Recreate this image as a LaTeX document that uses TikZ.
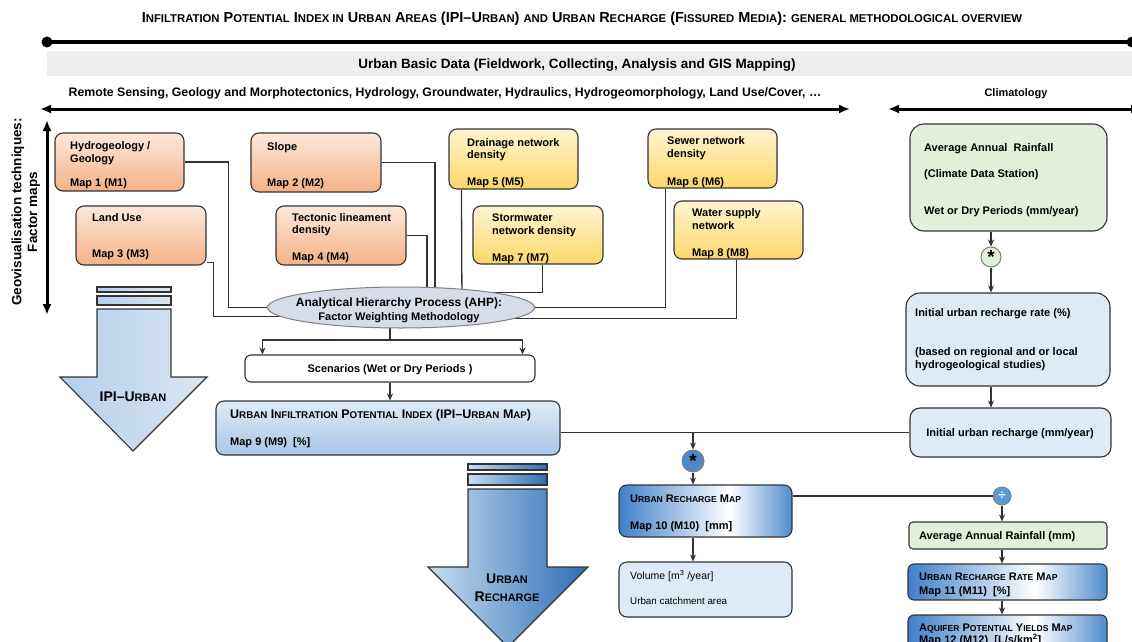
\documentclass[tikz,border=0pt]{standalone}
\usepackage{fontspec}
\setmainfont{Liberation Sans}
\usetikzlibrary{arrows.meta,calc,backgrounds,shapes.geometric}
\definecolor{edge}{HTML}{333333}
\definecolor{or1}{HTML}{FDE8DA}
\definecolor{or2}{HTML}{F4B286}
\definecolor{ye1}{HTML}{FFF5D2}
\definecolor{ye2}{HTML}{FCD668}
\definecolor{grn}{HTML}{E2EFDA}
\definecolor{lblue}{HTML}{DEEAF6}
\definecolor{ipi1}{HTML}{E0EBF6}
\definecolor{ipi2}{HTML}{A6C6E8}
\definecolor{bw1}{HTML}{3F80C9}
\definecolor{bw2}{HTML}{4F8BCD}
\definecolor{ellc}{HTML}{D6DDE8}
\definecolor{band}{HTML}{EDEDED}
\definecolor{ca1}{HTML}{B2CFED}
\definecolor{ca2}{HTML}{DCE5EE}
\definecolor{cb1}{HTML}{C8DDF1}
\definecolor{cb2}{HTML}{2D6DB5}
\definecolor{opblue}{HTML}{4F87C7}
\definecolor{opblue2}{HTML}{5B9BD5}
\pgfdeclarehorizontalshading{bluewhite}{100bp}{color(0bp)=(bw1); color(25bp)=(bw1); color(57bp)=(white); color(75bp)=(bw2); color(100bp)=(bw2)}
\makeatletter
\newcommand\lo[1]{{\fontsize{\fpeval{0.78*\f@size}}{\f@baselineskip}\selectfont #1}}
\makeatother
\tikzset{
 bx/.style={draw=edge, line width=1.1pt, rounded corners=8pt, inner sep=0pt},
 obox/.style={bx, top color=or1, bottom color=or2},
 ybox/.style={bx, top color=ye1, bottom color=ye2},
 gbox/.style={bx, fill=grn},
 lbbox/.style={bx, fill=lblue},
 wbox/.style={bx, fill=white, rounded corners=6pt},
 ipibox/.style={bx, top color=ipi1, bottom color=ipi2},
 bwbox/.style={bx, shade, shading=bluewhite},
 txt/.style={anchor=base west, inner sep=0pt},
 ctxt/.style={anchor=base, inner sep=0pt},
 conn/.style={draw=edge, line width=1.3pt},
 arr/.style={conn, -{Stealth[length=7pt,width=6pt]}},
 bigarr/.style={line width=3pt, {Latex[length=11pt,width=9pt]}-{Latex[length=11pt,width=9pt]}},
 opcirc/.style={circle, draw=gray, line width=1pt, minimum size=#1, inner sep=0pt},
 bigshape/.style={draw=edge, line width=1.1pt},
}
\begin{document}
\begin{tikzpicture}[x=1pt,y=-1pt,font=\fontsize{11}{13}\selectfont\bfseries]
\useasboundingbox (0,0) rectangle (1132,642);
% title and header
\node[ctxt, font=\fontsize{14.5}{16}\selectfont\bfseries] (title) at (582,23) {I\lo{NFILTRATION} P\lo{OTENTIAL} I\lo{NDEX IN} U\lo{RBAN} A\lo{REAS} (IPI–U\lo{RBAN}) \lo{AND} U\lo{RBAN} R\lo{ECHARGE} (F\lo{ISSURED} M\lo{EDIA}): \lo{GENERAL METHODOLOGICAL OVERVIEW}};
\coordinate (tl) at (47,42);
\coordinate (tr) at (1132,42);
\draw[line width=4pt] (tl) -- (tr);
\fill (tl) circle (5.5);
\fill (tr) circle (5.5);
\fill[band] (47,51) rectangle (1132,76);
\node[ctxt, font=\fontsize{13.5}{15}\selectfont\bfseries] (basic) at (577,68.5) {Urban Basic Data (Fieldwork, Collecting, Analysis and GIS Mapping)};
\node[ctxt, font=\fontsize{12.3}{14}\selectfont\bfseries] (remote) at (445,96) {Remote Sensing, Geology and Morphotectonics, Hydrology, Groundwater, Hydraulics, Hydrogeomorphology, Land Use/Cover, \dots};
\node[ctxt] (clim) at (1016,96) {Climatology};
\coordinate (ra) at (40,109);
\coordinate (rb) at (850,109);
\draw[bigarr] (ra) -- (rb);
\coordinate (ca) at (888,109);
\coordinate (cb) at (1142,109);
\draw[bigarr] (ca) -- (cb);
\coordinate (va) at (47,120);
\coordinate (vb) at (47,315);
\draw[bigarr] (va) -- (vb);
\node[rotate=90, inner sep=0pt, font=\fontsize{13.5}{16}\selectfont\bfseries] (geo1) at (18,212) {Geovisualisation techniques:};
\node[rotate=90, inner sep=0pt, font=\fontsize{13.5}{16}\selectfont\bfseries] (geo2) at (34,212) {Factor maps};

% factor boxes
\node[obox, minimum width=129, minimum height=58] (m1) at (119.5,162) {};
\node[obox, minimum width=130, minimum height=59] (m2) at (316,162.5) {};
\node[obox, minimum width=130, minimum height=59] (m3) at (141,235.5) {};
\node[obox, minimum width=130, minimum height=59] (m4) at (341,235.5) {};
\node[ybox, minimum width=129, minimum height=60] (m5) at (513.5,159) {};
\node[ybox, minimum width=129, minimum height=59] (m6) at (712.5,158.5) {};
\node[ybox, minimum width=130, minimum height=58] (m7) at (538,235) {};
\node[ybox, minimum width=129, minimum height=58] (m8) at (738.5,230) {};
\node[txt] (m1a) at (70,149.5) {Hydrogeology /};
\node[txt] (m1b) at (70,162.5) {Geology};
\node[txt] (m1c) at (70,186.5) {Map 1 (M1)};
\node[txt] (m2a) at (267,150) {Slope};
\node[txt] (m2c) at (267,186) {Map 2 (M2)};
\node[txt] (m3a) at (92,221) {Land Use};
\node[txt] (m3c) at (92,257) {Map 3 (M3)};
\node[txt] (m4a) at (292,221) {Tectonic lineament};
\node[txt] (m4b) at (292,233.5) {density};
\node[txt] (m4c) at (292,260) {Map 4 (M4)};
\node[txt] (m5a) at (467,146) {Drainage network};
\node[txt] (m5b) at (467,158) {density};
\node[txt] (m5c) at (467,185) {Map 5 (M5)};
\node[txt] (m6a) at (667,144) {Sewer network};
\node[txt] (m6b) at (667,157) {density};
\node[txt] (m6c) at (667,185) {Map 6 (M6)};
\node[txt] (m7a) at (492,221) {Stormwater};
\node[txt] (m7b) at (492,234) {network density};
\node[txt] (m7c) at (492,261) {Map 7 (M7)};
\node[txt] (m8a) at (692,216) {Water supply};
\node[txt] (m8b) at (692,229.5) {network};
\node[txt] (m8c) at (692,256) {Map 8 (M8)};

% AHP
\node[ellipse, draw=gray, fill=ellc, line width=1pt, minimum width=267, minimum height=41, inner sep=0pt] (ahp) at (401,307.5) {};
\node[ctxt, font=\fontsize{12}{14}\selectfont\bfseries] (ahp1) at (399,306) {Analytical Hierarchy Process (AHP):};
\node[ctxt] (ahp2) at (399,320.5) {Factor Weighting Methodology};

% big arrows
\fill[left color=ca1, right color=ca2, draw=edge, line width=1.1pt] (97,287) rectangle (171,292);
\fill[left color=ca1, right color=ca2, draw=edge, line width=1.1pt] (97,296) rectangle (171,305);
\path[bigshape, left color=ca1, right color=ca2] (97,309) -- (171,309) -- (171,377) -- (207,377) -- (133,451) -- (60,377) -- (97,377) -- cycle;
\node[ctxt, font=\fontsize{14}{16}\selectfont\bfseries] (ipilbl) at (133,401) {IPI–U\lo{RBAN}};

\fill[left color=cb1, right color=cb2, draw=edge, line width=1.1pt] (468,464) rectangle (547,470);
\fill[left color=cb1, right color=cb2, draw=edge, line width=1.1pt] (468,474) rectangle (547,485);
\path[bigshape, left color=cb1, right color=cb2] (468,489) -- (547,489) -- (547,567) -- (588,567) -- (508,647) -- (428,567) -- (468,567) -- cycle;
\node[ctxt, font=\fontsize{14}{16}\selectfont\bfseries] (rcl1) at (507,583) {U\lo{RBAN}};
\node[ctxt, font=\fontsize{14}{16}\selectfont\bfseries] (rcl2) at (507,601) {R\lo{ECHARGE}};

% middle flow
\node[wbox, minimum width=290, minimum height=27] (scen) at (390,368.5) {};
\node[ctxt] (scent) at (390,372.5) {Scenarios (Wet or Dry Periods )};
\node[ipibox, minimum width=344, minimum height=54] (ipi) at (388,428) {};
\node[txt, font=\fontsize{12.5}{14}\selectfont\bfseries] (ipia) at (230,418) {U\lo{RBAN} I\lo{NFILTRATION} P\lo{OTENTIAL} I\lo{NDEX} (IPI–U\lo{RBAN} M\lo{AP})};
\node[txt] (ipib) at (230,445) {Map 9 (M9)\ \ [\%]};
\node[bwbox, minimum width=173, minimum height=52] (m10) at (705.5,511) {};
\node[txt] (m10a) at (630,502) {U\lo{RBAN} R\lo{ECHARGE} M\lo{AP}};
\node[txt] (m10b) at (630,529) {Map 10 (M10)\ \ [mm]};
\node[lbbox, minimum width=173, minimum height=55] (vol) at (705.5,589.5) {};
\node[txt, font=\fontsize{10.5}{12}\selectfont] (vola) at (630,579) {Volume [m\textsuperscript{3} /year]};
\node[txt, font=\fontsize{9.8}{11}\selectfont] (volb) at (630,604) {Urban catchment area};

% right column
\node[gbox, rounded corners=14pt, minimum width=197, minimum height=107] (g1) at (1008.5,177.5) {};
\node[txt] (g1a) at (924,151) {Average Annual\ \ Rainfall};
\node[txt] (g1b) at (924,177) {(Climate Data Station)};
\node[txt] (g1c) at (924,214) {Wet or Dry Periods (mm/year)};
\node[opcirc=20, fill=grn] (c1) at (991,257) {\raisebox{-4.5pt}{\fontsize{19}{19}\selectfont *}};
\node[lbbox, rounded corners=14pt, minimum width=204, minimum height=93] (rate) at (1008,339.5) {};
\node[txt] (ratea) at (915,316) {Initial urban recharge rate (\%)};
\node[txt] (rateb) at (915,355) {(based on regional and or local};
\node[txt] (ratec) at (915,368) {hydrogeological studies)};
\node[lbbox, rounded corners=10pt, minimum width=201, minimum height=49] (init) at (1010.5,432.5) {};
\node[ctxt] (initt) at (1010,436) {Initial urban recharge (mm/year)};
\node[opcirc=22, fill=opblue] (c2) at (693,461) {\raisebox{-4.5pt}{\fontsize{19}{19}\selectfont *}};
\node[opcirc=18, fill=opblue2] (c3) at (1002,496) {\fontsize{13}{13}\selectfont\color{white}÷};
\node[gbox, rounded corners=4pt, minimum width=198, minimum height=27] (rain) at (1008,535.5) {};
\node[txt] (raint) at (919,539) {Average Annual Rainfall (mm)};
\node[bwbox, rounded corners=6pt, minimum width=199, minimum height=36] (rr) at (1007.5,582) {};
\node[txt] (rra) at (919,580) {U\lo{RBAN} R\lo{ECHARGE} R\lo{ATE} M\lo{AP}};
\node[txt] (rrb) at (919,594) {Map 11 (M11)\ \ [\%]};
\node[bwbox, rounded corners=6pt, minimum width=199, minimum height=50] (aq) at (1007.5,640) {};
\node[txt] (aqa) at (919,631) {A\lo{QUIFER} P\lo{OTENTIAL} Y\lo{IELDS} M\lo{AP}};
\node[txt] (aqb) at (919,643) {Map 12 (M12)\ \ [L/s/km\textsuperscript{2}]};

% connectors
\begin{scope}[on background layer]
\draw[conn] (m1.east) -- ++(44,0) |- (ahp.center);
\draw[conn] ($(m3.south east)+(0,-3)$) -- ++(7,0) |- ($(ahp.center)+(0,9)$);
\draw[conn] (m2.east) -| ($(ahp.center)+(34,0)$);
\draw[conn] (m4.east) -| ($(ahp.center)+(26,0)$);
\draw[conn] ($(m5.south west)+(13,0)$) -- ($(ahp.center)+(61,0)$);
\draw[conn] ($(m7.south west)+(70,0)$) |- ($(ahp.center)+(80,-15)$);
\draw[conn] ($(m6.south west)+(18,0)$) |- (ahp.center);
\draw[conn] ($(m8.south west)+(63,0)$) |- ($(ahp.center)+(0,11)$);
\coordinate (split) at (390,340);
\draw[conn] (split |- ahp.center) -- (split);
\draw[arr] (split) -| ($(scen.north west)+(18,0)$);
\draw[arr] (split) -| ($(scen.north east)+(-13,0)$);
\end{scope}
\draw[arr] (scen.south) -- (scen.south |- ipi.north);
\draw[conn] (init.west) -- (init.west -| ipi.east);
\draw[arr] (c2 |- init.west) -- (c2.north);
\draw[arr] (c2.south) -- (c2 |- m10.north);
\draw[arr] (c2 |- m10.south) -- (c2 |- vol.north);
\draw[conn] (c3 -| m10.east) -- (c3.west);
\draw[arr] (c3.south) -- (c3 |- rain.north);
\draw[arr] (c3 |- rain.south) -- (c3 |- rr.north);
\draw[arr] (c3 |- rr.south) -- (c3 |- aq.north);
\draw[arr] (c1 |- g1.south) -- (c1.north);
\draw[arr] (c1.south) -- (c1 |- rate.north);
\draw[arr] (c1 |- rate.south) -- (c1 |- init.north);
\end{tikzpicture}
\end{document}
